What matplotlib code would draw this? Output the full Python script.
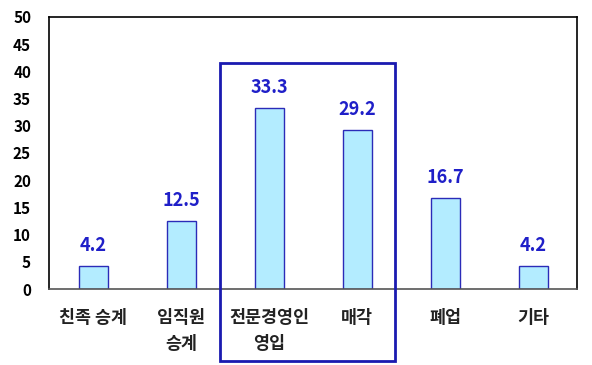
import matplotlib

matplotlib.use("Agg")
import matplotlib.pyplot as plt
from matplotlib.patches import Rectangle

plt.rcParams["font.family"] = ["Noto Sans CJK KR", "DejaVu Sans"]

categories = ["친족 승계", "임직원\n승계", "전문경영인\n영입", "매각", "폐업", "기타"]
values = [4.2, 12.5, 33.3, 29.2, 16.7, 4.2]
yticks = list(range(0, 51, 5))
highlight = (2, 3)  # categories framed by the blue box

fig = plt.figure(figsize=(5.92, 3.65), dpi=100)
ax = fig.add_axes([0.083, 0.208, 0.892, 0.746])

x = range(len(categories))
ax.bar(x, values, width=0.33, color="#B3ECFF", edgecolor="#2B2BB8", linewidth=1.0, zorder=2)
for xi, v in zip(x, values):
    ax.annotate(f"{v}", (xi, v), xytext=(0, 8), textcoords="offset points",
                ha="center", va="bottom", color="#1F1FC8", fontsize=13, fontweight="bold")

ax.set_xlim(-0.5, len(categories) - 0.5)
ax.set_ylim(0, 50)
ax.set_yticks(yticks)
ax.set_yticklabels([str(t) for t in yticks], fontsize=11, fontweight="bold")
ax.set_xticks(list(x))
ax.set_xticklabels(categories, fontsize=12.5, fontweight="bold", color="#222222", linespacing=1.6, va="top")
ax.tick_params(axis="both", length=0)
ax.tick_params(axis="x", pad=14)
ax.tick_params(axis="y", pad=13)
for s in ["left", "top", "right"]:
    ax.spines[s].set_color("black")
    ax.spines[s].set_linewidth(1.2)
ax.spines["bottom"].set_color("#555555")
ax.spines["bottom"].set_linewidth(1.2)

# frame around the highlighted categories, reaching below the axis
x0 = highlight[0] - 0.56
x1 = highlight[1] + 0.43
box = Rectangle((x0, -13.2), x1 - x0, 41.5 + 13.2, fill=False, edgecolor="#1A1AB0",
                linewidth=2, clip_on=False, zorder=3)
ax.add_patch(box)

fig.savefig("out.png", dpi=100)
